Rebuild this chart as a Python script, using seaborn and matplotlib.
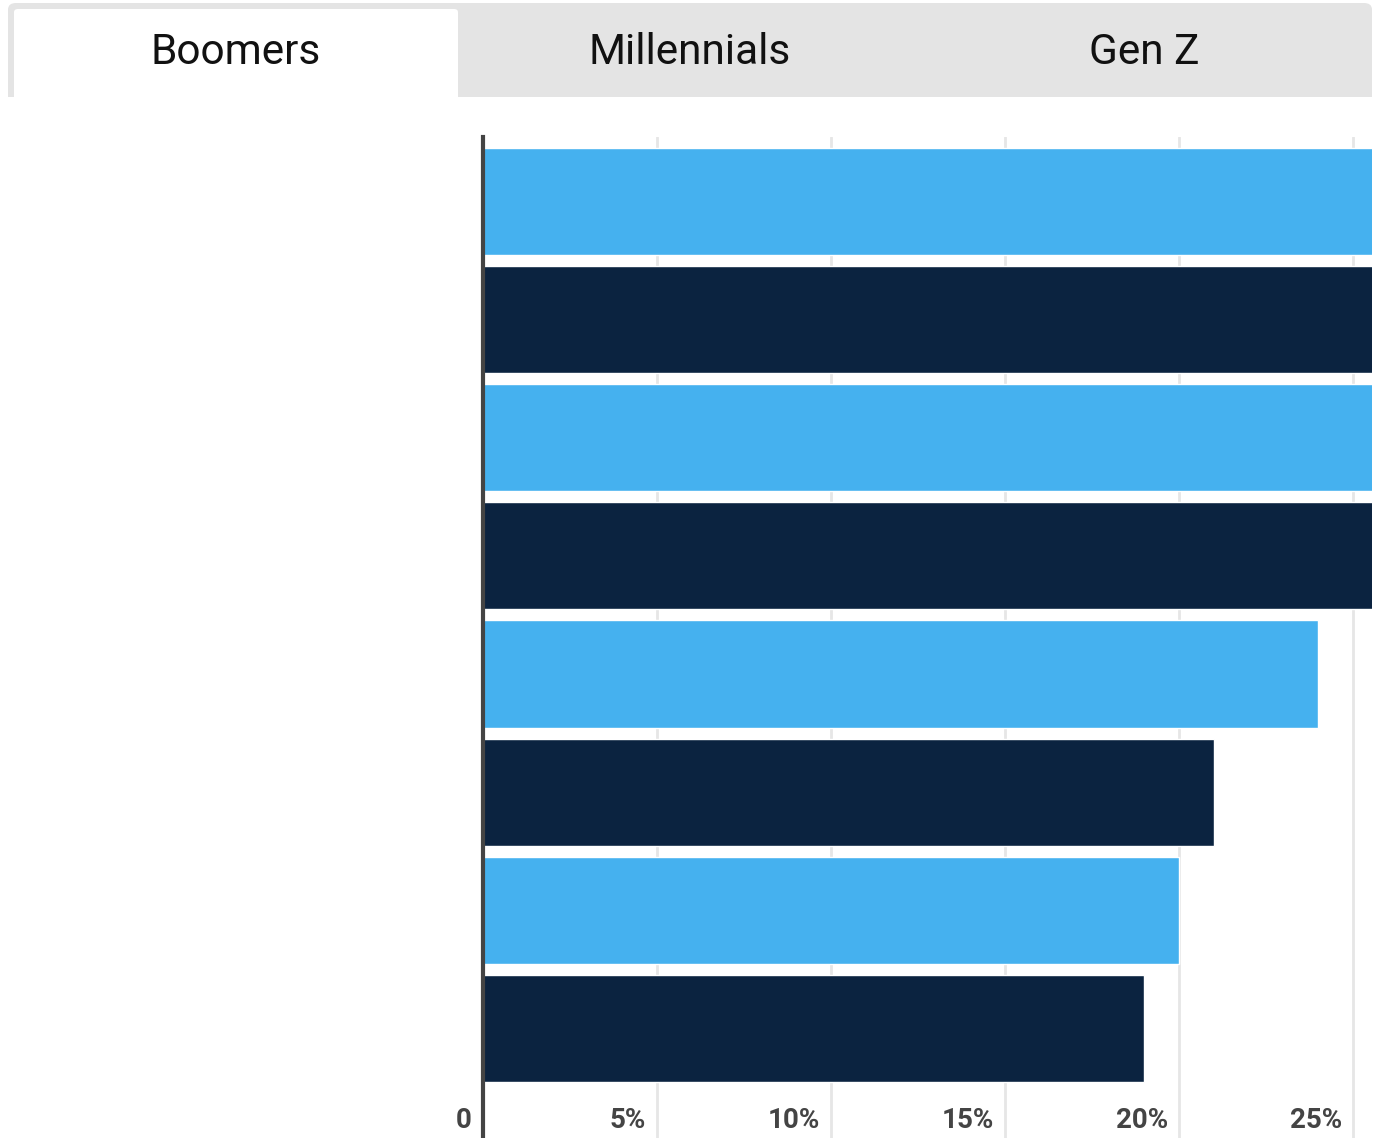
import matplotlib
matplotlib.use("Agg")
import matplotlib.pyplot as plt
from matplotlib.patches import FancyBboxPatch, Rectangle
from matplotlib.transforms import offset_copy
import seaborn as sns
import pandas as pd

# Tabs across the top
tab_labels = ["Boomers", "Millennials", "Gen Z"]
active_tab = 0

# Bar data: four groups, two series each (values in %).
# The first two groups run past the 25.55% axis limit and are cut off at the
# right edge, so their values here are rough placeholders, not exact figures.
groups = ["Group 1", "Group 2", "Group 3", "Group 4"]
series_names = ["Series A", "Series B"]
series_a = [33, 29, 24, 20]
series_b = [31, 27, 21, 19]

# Axis ticks
tick_values = [0, 5, 10, 15, 20, 25]
tick_labels = ["0", "5%", "10%", "15%", "20%", "25%"]

colors = ["#45B1EF", "#0B2340"]

df = pd.DataFrame({
    "group": groups * 2,
    "series": [series_names[0]] * len(groups) + [series_names[1]] * len(groups),
    "value": series_a + series_b,
})

W, H = 1376, 1138
sns.set_theme(style="white")
plt.rcParams["font.family"] = ["Roboto", "DejaVu Sans"]

fig = plt.figure(figsize=(W / 100, H / 100), dpi=100)
fig.patch.set_facecolor("white")


def fx(px):
    return px / W


def fy(py):
    return 1 - py / H


def top_rounded_box(x0, y0, x1, y1, radius_px, color, z):
    """Box in pixel coords with rounded top corners and a square bottom."""
    r = radius_px / W
    fig.patches.append(FancyBboxPatch((fx(x0), fy(y1)), fx(x1 - x0), fy(y0) - fy(y1),
                                      boxstyle=f"round,pad=0,rounding_size={r}",
                                      transform=fig.transFigure, facecolor=color,
                                      edgecolor="none", zorder=z))
    fig.patches.append(Rectangle((fx(x0), fy(y1)), fx(x1 - x0), (fy(y0) - fy(y1)) / 2,
                                 transform=fig.transFigure, facecolor=color,
                                 edgecolor="none", zorder=z))


# ---- tab strip ----
top_rounded_box(8, 3, 1372, 97, 8, "#E4E4E4", 0)
tab_w = (1372 - 8) / len(tab_labels)
for i, lab in enumerate(tab_labels):
    x0 = 8 + i * tab_w
    if i == active_tab:
        top_rounded_box(14, 9, 458, 97, 4, "white", 1)
    fig.text(fx(x0 + tab_w / 2), fy(64), lab,
             ha="center", va="baseline", fontsize=30.5, color="#111111",
             family=["Roboto", "DejaVu Sans"], zorder=2)

# ---- bar chart ----
ax = fig.add_axes([fx(483), 0, fx(1372) - fx(483), fy(137)])
sns.barplot(data=df, y="group", x="value", hue="series", palette=colors,
            orient="h", width=1.0, gap=0.094, dodge=True, saturation=1,
            legend=False, ax=ax, zorder=2)

ax.set_xlim(0, 25.55)
ax.set_ylim(3.714, -0.523)
ax.set_xlabel("")
ax.set_ylabel("")
ax.set_yticks([])
ax.set_xticks(tick_values)
ax.set_xticklabels([])
ax.tick_params(axis="x", length=0)
ax.grid(axis="x", color="#E6E6E6", linewidth=2, zorder=0)
ax.set_axisbelow(True)
for s in ["top", "right", "bottom"]:
    ax.spines[s].set_visible(False)
ax.spines["left"].set_color("#444444")
ax.spines["left"].set_linewidth(3)
ax.spines["left"].set_zorder(5)

lab_tr = offset_copy(ax.get_xaxis_transform(), fig=fig, x=-11, y=0, units="dots")
for v, t in zip(tick_values, tick_labels):
    ax.text(v, (1138 - 1128) / 1001, t, transform=lab_tr, ha="right", va="baseline",
            fontsize=20, fontweight="bold", color="#444444")

fig.savefig("out.png", dpi=100, facecolor="white")
